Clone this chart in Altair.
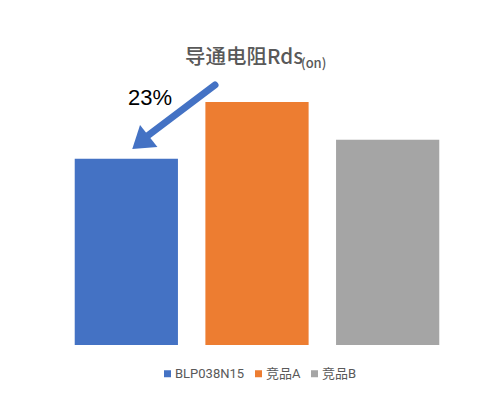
import altair as alt
import pandas as pd

products = ["BLP038N15", "竞品A", "竞品B"]
rds_values = [3.8, 4.96, 4.19]
colors = ["#4472C4", "#ED7D31", "#A5A5A5"]
title_main = "导通电阻Rds"
title_sub = "(on)"
annotation = "23%"

df = pd.DataFrame({"product": products, "rds": rds_values})
one = alt.Data(values=[{"k": 1}])

W, H = 392, 294

bars = alt.Chart(df).mark_bar().encode(
    x=alt.X("product:N", sort=products, axis=None,
            scale=alt.Scale(paddingInner=0.21, paddingOuter=0.105)),
    y=alt.Y("rds:Q", axis=None, scale=alt.Scale(domain=[0, 6], nice=False)),
    color=alt.Color("product:N", sort=products,
                    scale=alt.Scale(domain=products, range=colors),
                    legend=alt.Legend(
                        title=None, orient="none", direction="horizontal",
                        legendX=100, legendY=316, symbolType="square",
                        symbolSize=49, symbolStrokeWidth=0,
                        labelFontSize=13, labelColor="#595959",
                        labelFont="Roboto, Noto Sans CJK SC", labelOffset=1,
                        columnPadding=7, padding=0)),
)

title1 = alt.Chart(one).mark_text(
    align="left", baseline="alphabetic", font="Noto Sans CJK SC",
    fontSize=20.5, fontWeight=500, color="#595959"
).encode(x=alt.value(124), y=alt.value(13), text=alt.value(title_main))

title2 = alt.Chart(one).mark_text(
    align="left", baseline="alphabetic", font="Noto Sans CJK SC",
    fontSize=13, fontWeight=500, color="#595959"
).encode(x=alt.value(240), y=alt.value(17), text=alt.value(title_sub))

label = alt.Chart(one).mark_text(
    align="left", baseline="alphabetic", font="Liberation Sans",
    fontSize=22, color="#000000"
).encode(x=alt.value(67), y=alt.value(54), text=alt.value(annotation))

shaft = alt.Chart(one).mark_rule(
    color="#4472C4", strokeWidth=7, strokeCap="round"
).encode(x=alt.value(154), y=alt.value(34), x2=alt.value(85), y2=alt.value(86))

head = alt.Chart(one).mark_point(
    shape="M0,-0.75L1,0.75L-1,0.75Z", filled=True, fill="#4472C4",
    color="#4472C4", opacity=1, size=784, angle=231.6, strokeWidth=0
).encode(x=alt.value(79.5), y=alt.value(91.5))

chart = alt.layer(bars, shaft, head, label, title1, title2).properties(
    width=W, height=H,
    autosize=alt.AutoSizeParams(type="none"),
    padding={"left": 53, "top": 43, "right": 40, "bottom": 50},
).configure_view(stroke=None)

chart.save("out.html", embed_options={"renderer": "svg", "actions": False})
